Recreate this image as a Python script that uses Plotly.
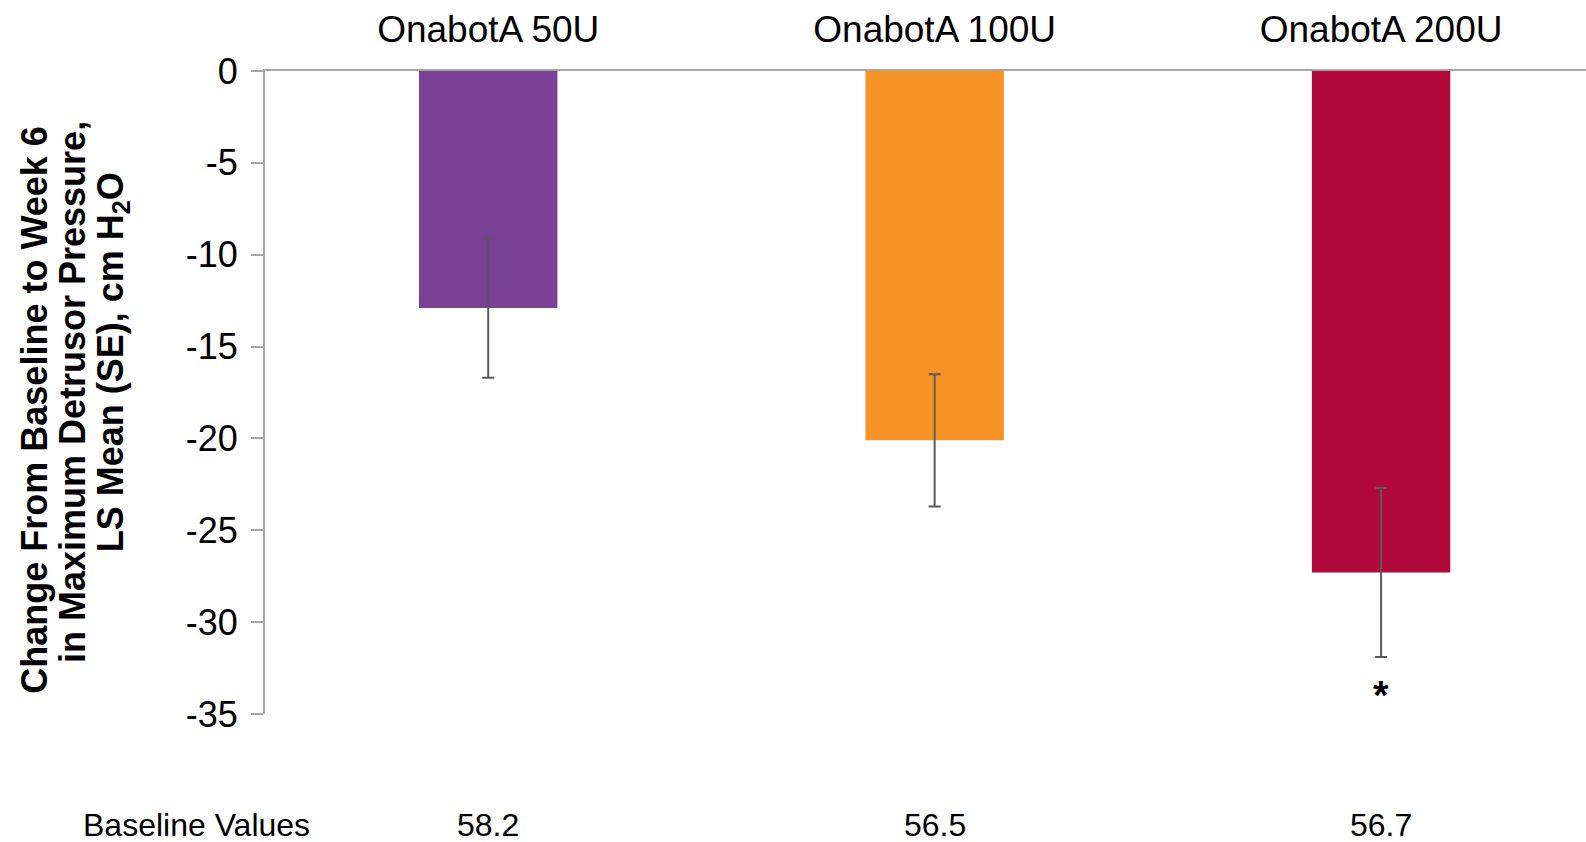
import plotly.graph_objects as go

# Treatment groups, LS mean change and standard error
doses = ["OnabotA 50U", "OnabotA 100U", "OnabotA 200U"]
ls_mean_change = [-12.9, -20.1, -27.3]
std_error = [3.8, 3.6, 4.6]
bar_colors = ["#7B4196", "#F69324", "#B10A3A"]
baseline_values = ["58.2", "56.5", "56.7"]
significant = [False, False, True]
y_ticks = [0, -5, -10, -15, -20, -25, -30, -35]

FONT = "Liberation Sans, Arial, sans-serif"

fig = go.Figure(
    go.Bar(
        x=doses,
        y=ls_mean_change,
        marker=dict(color=bar_colors, line=dict(width=0)),
        width=0.31,
        error_y=dict(type="data", array=std_error, visible=True,
                     color="#595959", thickness=2, width=6),
        showlegend=False,
    )
)

annotations = []

# Baseline value row beneath the plot
annotations.append(dict(text="Baseline Values", xref="paper", yref="paper",
                        x=-0.0522, y=-0.172, xanchor="center", yanchor="middle",
                        showarrow=False, font=dict(family=FONT, size=32, color="#000")))
for d, b in zip(doses, baseline_values):
    annotations.append(dict(text=b, xref="x", yref="paper", x=d, y=-0.172,
                            xanchor="center", yanchor="middle", showarrow=False,
                            font=dict(family=FONT, size=32, color="#000")))

# Significance markers below the error bars
for d, v, se, sig in zip(doses, ls_mean_change, std_error, significant):
    if sig:
        annotations.append(dict(text="<b>*</b>", xref="x", yref="y", x=d, y=v - se,
                                xanchor="center", yanchor="top", yshift=-14,
                                showarrow=False,
                                font=dict(family=FONT, size=40, color="#000")))

# Three-line rotated y-axis title
title_lines = [
    ("Change From Baseline to Week 6", -0.1741, 0.4733),
    ("in Maximum Detrusor Pressure,", -0.1453, 0.5008),
    ("LS Mean (SE), cm H<sub>2</sub>O", -0.1151, 0.547),
]
for txt, xp, yp in title_lines:
    annotations.append(dict(text="<b>" + txt + "</b>", xref="paper", yref="paper",
                            x=xp, y=yp, xanchor="center", yanchor="middle",
                            textangle=-90, showarrow=False,
                            font=dict(family=FONT, size=36, color="#000")))

fig.update_layout(
    width=1586,
    height=842,
    margin=dict(l=265, r=0, t=71, b=128, pad=0),
    paper_bgcolor="white",
    plot_bgcolor="white",
    font=dict(family=FONT, color="#000"),
    xaxis=dict(
        side="top",
        range=[-0.5, 2.459],
        showline=True, linecolor="#A6A6A6", linewidth=2,
        ticks="", showgrid=False, zeroline=False,
        tickfont=dict(family=FONT, size=37, color="#000"),
        ticklabelstandoff=12,
    ),
    yaxis=dict(
        range=[-35, 0],
        tickvals=y_ticks,
        ticktext=[str(t) for t in y_ticks],
        showline=True, linecolor="#A6A6A6", linewidth=2,
        ticks="outside", ticklen=12, tickcolor="#A6A6A6", tickwidth=2,
        showgrid=False, zeroline=False,
        tickfont=dict(family=FONT, size=36, color="#000"),
        ticklabelstandoff=6,
    ),
    annotations=annotations,
)

fig.write_html("out.html")
